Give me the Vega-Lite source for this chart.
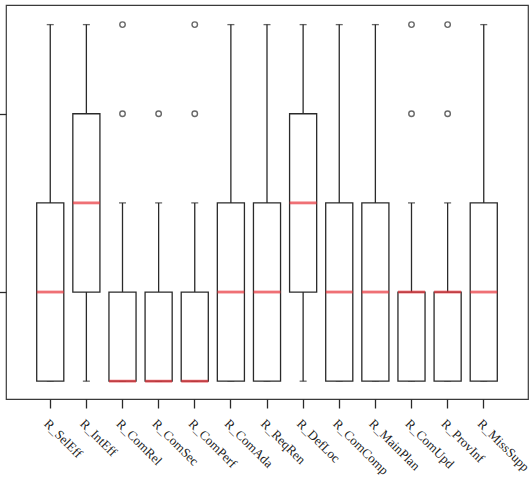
{
  "$schema": "https://vega.github.io/schema/vega-lite/v6.json",
  "autosize": "none",
  "padding": {"left": 6, "top": 5, "right": 4, "bottom": 83},
  "width": 522,
  "height": 394,
  "background": "white",
  "config": {
    "view": {"stroke": "#3a3a3a", "strokeWidth": 1.2},
    "axis": {"grid": false, "domain": false, "tickColor": "#2a2a2a", "tickWidth": 1.3, "title": null}
  },
  "datasets": {
    "boxes": [
      {"item": "R_SelEff", "lo": 1, "q1": 1, "med": 2, "q3": 3, "hi": 5},
      {"item": "R_IntEff", "lo": 1, "q1": 2, "med": 3, "q3": 4, "hi": 5},
      {"item": "R_ComRel", "lo": 1, "q1": 1, "med": 1, "q3": 2, "hi": 3},
      {"item": "R_ComSec", "lo": 1, "q1": 1, "med": 1, "q3": 2, "hi": 3},
      {"item": "R_ComPerf", "lo": 1, "q1": 1, "med": 1, "q3": 2, "hi": 3},
      {"item": "R_ComAda", "lo": 1, "q1": 1, "med": 2, "q3": 3, "hi": 5},
      {"item": "R_ReqRen", "lo": 1, "q1": 1, "med": 2, "q3": 3, "hi": 5},
      {"item": "R_DefLoc", "lo": 1, "q1": 2, "med": 3, "q3": 4, "hi": 5},
      {"item": "R_ComComp", "lo": 1, "q1": 1, "med": 2, "q3": 3, "hi": 5},
      {"item": "R_MainPlan", "lo": 1, "q1": 1, "med": 2, "q3": 3, "hi": 5},
      {"item": "R_ComUpd", "lo": 1, "q1": 1, "med": 2, "q3": 2, "hi": 3},
      {"item": "R_ProvInf", "lo": 1, "q1": 1, "med": 2, "q3": 2, "hi": 3},
      {"item": "R_MissSupp", "lo": 1, "q1": 1, "med": 2, "q3": 3, "hi": 5}
    ],
    "outliers": [
      {"item": "R_ComRel", "value": 4},
      {"item": "R_ComRel", "value": 5},
      {"item": "R_ComSec", "value": 4},
      {"item": "R_ComPerf", "value": 4},
      {"item": "R_ComPerf", "value": 5},
      {"item": "R_ComUpd", "value": 4},
      {"item": "R_ComUpd", "value": 5},
      {"item": "R_ProvInf", "value": 4},
      {"item": "R_ProvInf", "value": 5}
    ]
  },
  "encoding": {
    "x": {
      "field": "item",
      "type": "nominal",
      "sort": null,
      "scale": {"type": "band", "paddingInner": 0.25, "paddingOuter": 0.85},
      "axis": {
        "labelAngle": 45,
        "labelAlign": "left",
        "labelBaseline": "top",
        "tickSize": 9,
        "labelPadding": 9,
        "labelOffset": 0,
        "labelFont": "Liberation Serif",
        "labelFontSize": 13,
        "labelColor": "#222"
      }
    }
  },
  "layer": [
    {
      "data": {"name": "boxes"},
      "mark": {"type": "rule", "color": "#2a2a2a", "strokeWidth": 1.3},
      "encoding": {
        "y": {
          "field": "lo",
          "type": "quantitative",
          "scale": {"domain": [0.8, 5.22], "nice": false, "zero": false},
          "axis": {"values": [2, 4], "labels": false, "tickSize": 7}
        },
        "y2": {"field": "hi"}
      }
    },
    {
      "data": {"name": "boxes"},
      "mark": {"type": "tick", "orient": "horizontal", "color": "#2a2a2a", "size": 7, "thickness": 1.3},
      "encoding": {"y": {"field": "lo", "type": "quantitative"}}
    },
    {
      "data": {"name": "boxes"},
      "mark": {"type": "tick", "orient": "horizontal", "color": "#2a2a2a", "size": 7, "thickness": 1.3},
      "encoding": {"y": {"field": "hi", "type": "quantitative"}}
    },
    {
      "data": {"name": "boxes"},
      "mark": {"type": "bar", "fill": "white", "stroke": "#2a2a2a", "strokeWidth": 1.3},
      "encoding": {
        "y": {"field": "q1", "type": "quantitative"},
        "y2": {"field": "q3"}
      }
    },
    {
      "data": {"name": "boxes"},
      "mark": {"type": "tick", "orient": "horizontal", "color": "#e8333a", "size": 27, "thickness": 2.8},
      "encoding": {"y": {"field": "med", "type": "quantitative"}}
    },
    {
      "data": {"name": "outliers"},
      "mark": {"type": "point", "shape": "circle", "filled": false, "size": 30, "stroke": "#2a2a2a", "strokeWidth": 1.4},
      "encoding": {"y": {"field": "value", "type": "quantitative"}}
    }
  ]
}
